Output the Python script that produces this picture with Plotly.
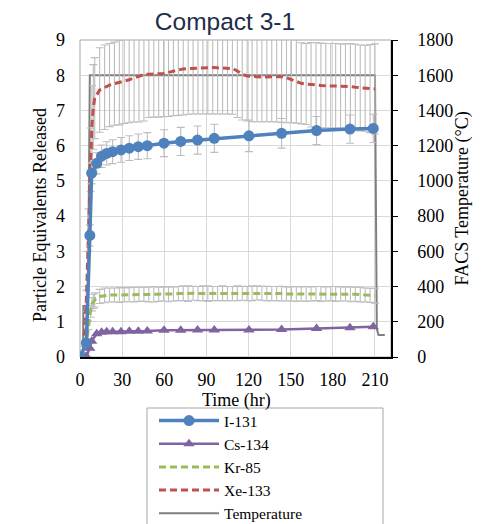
import plotly.graph_objects as go

# ---------------- data ----------------
iod_time = [0, 4.5, 7.0, 8.3, 11.9, 15.4, 19.0, 23.2, 29.2, 35.1, 41.5, 47.9, 59.8,
            71.7, 83.7, 95.6, 120.3, 143.5, 168.4, 192.2, 208.8]
i131 = [0.0, 0.4, 3.45, 5.22, 5.5, 5.7, 5.78, 5.83, 5.88, 5.93, 5.97, 6.0, 6.07,
        6.12, 6.16, 6.21, 6.28, 6.35, 6.43, 6.47, 6.49]
i131_err = [0, 0.05, 0.3, 0.3, 0.3, 0.32, 0.33, 0.34, 0.35, 0.35, 0.36, 0.37, 0.38,
            0.4, 0.4, 0.4, 0.45, 0.42, 0.4, 0.4, 0.4]
cs134 = [0.0, 0.02, 0.25, 0.45, 0.66, 0.70, 0.72, 0.72, 0.72, 0.73, 0.73, 0.74, 0.76,
         0.76, 0.77, 0.77, 0.77, 0.78, 0.81, 0.83, 0.86]

gas_time = [0, 2.5, 4.5, 6.0, 7.5, 8.5, 9.5,
            10.5, 14, 17.5, 21, 24.5, 28, 31.5, 35, 38.5, 42, 45.5, 49, 52.5, 56,
            59.5, 63, 66.5, 70, 73.5, 77, 80.5, 84, 87.5, 91, 94.5, 98, 101.5, 105,
            108.5, 112, 115.5, 119, 122.5, 126, 129.5, 133, 136.5, 140, 143.5, 147,
            150.5, 154, 157.5, 161, 164.5, 168, 171.5, 175, 178.5, 182, 185.5, 189,
            192.5, 196, 199.5, 203, 206.5, 210]
xe133 = [0.0, 0.25, 1.6, 3.6, 5.6, 6.6, 7.1,
         7.35, 7.58, 7.66, 7.72, 7.76, 7.79, 7.83, 7.87, 7.92, 7.97, 8.02, 8.03, 8.03, 8.03,
         8.05, 8.08, 8.12, 8.16, 8.18, 8.19, 8.2, 8.21, 8.21, 8.22, 8.22, 8.21, 8.21, 8.2,
         8.19, 8.12, 8.03, 7.98, 7.96, 7.96, 7.95, 7.95, 7.96, 7.97, 7.96, 7.93,
         7.87, 7.82, 7.77, 7.75, 7.73, 7.72, 7.71, 7.70, 7.70, 7.70, 7.69, 7.69,
         7.68, 7.66, 7.64, 7.63, 7.62, 7.61]
xe133_err = [0.0, 0.05, 0.3, 0.6, 0.9, 1.1, 1.2,
             1.15, 1.2, 1.2, 1.18, 1.18, 1.2, 1.2, 1.22, 1.25, 1.3, 1.32, 1.23, 1.22, 1.22,
             1.23, 1.25, 1.27, 1.3, 1.31, 1.3, 1.3, 1.31, 1.31, 1.32, 1.32, 1.31, 1.31, 1.3,
             1.3, 1.32, 1.3, 1.28, 1.28, 1.28, 1.27, 1.27, 1.28, 1.3, 1.3, 1.28,
             1.22, 1.18, 1.15, 1.15, 1.2, 1.2, 1.2, 1.2, 1.2, 1.2, 1.2, 1.2,
             1.22, 1.22, 1.22, 1.22, 1.25, 1.28]
kr85 = [0.0, 0.1, 0.35, 0.9, 1.3, 1.5, 1.58,
        1.62, 1.72, 1.75, 1.76, 1.76, 1.76, 1.77, 1.77, 1.77, 1.78, 1.78, 1.77, 1.78, 1.78,
        1.79, 1.78, 1.79, 1.80, 1.81, 1.80, 1.81, 1.80, 1.81, 1.80, 1.80, 1.80, 1.81, 1.80,
        1.80, 1.81, 1.81, 1.80, 1.81, 1.82, 1.81, 1.80, 1.80, 1.80, 1.80, 1.79,
        1.79, 1.79, 1.79, 1.79, 1.79, 1.80, 1.79, 1.79, 1.80, 1.79, 1.79, 1.79,
        1.78, 1.78, 1.77, 1.76, 1.75, 1.74]
kr85_err = [0.0, 0.02, 0.05, 0.12, 0.17, 0.19, 0.2,
            0.2, 0.2, 0.21, 0.2, 0.2, 0.21, 0.2, 0.2, 0.21, 0.2, 0.2, 0.21, 0.22, 0.2,
            0.2, 0.21, 0.2, 0.2, 0.21, 0.22, 0.2, 0.2, 0.21, 0.22, 0.2, 0.2, 0.21, 0.2,
            0.2, 0.21, 0.2, 0.2, 0.21, 0.2, 0.2, 0.21, 0.2, 0.2, 0.21, 0.2,
            0.2, 0.21, 0.2, 0.21, 0.2, 0.2, 0.21, 0.2, 0.2, 0.21, 0.2, 0.2,
            0.21, 0.2, 0.21, 0.2, 0.2, 0.21]

temp_time = [0, 2.2, 2.4, 5.6, 7.0, 210.0, 211.3, 212.5, 217.0]
temp_c = [20, 20, 290, 290, 1600, 1600, 160, 125, 125]

x_ticks = [0, 30, 60, 90, 120, 150, 180, 210]

# ---------------- styling ----------------
SERIF = "Liberation Serif, Times New Roman, serif"
ERR = dict(type="data", visible=True, color="#bdbdbd", thickness=1.1, width=4)

fig = go.Figure()

# temperature on primary (right side) axis -> drawn underneath
fig.add_trace(go.Scatter(
    x=temp_time, y=temp_c, name="Temperature", mode="lines",
    line=dict(color="#7f7f7f", width=2), yaxis="y", legendrank=5))

fig.add_trace(go.Scatter(
    x=gas_time, y=xe133, name="Xe-133", mode="lines",
    line=dict(color="#C0504D", width=3, dash="7px,4px"),
    error_y=dict(array=xe133_err, **ERR), yaxis="y2", legendrank=4))

fig.add_trace(go.Scatter(
    x=gas_time, y=kr85, name="Kr-85", mode="lines",
    line=dict(color="#9BBB59", width=3, dash="7px,4px"),
    error_y=dict(array=kr85_err, **ERR), yaxis="y2", legendrank=3))

fig.add_trace(go.Scatter(
    x=iod_time, y=cs134, name="Cs-134", mode="lines+markers",
    line=dict(color="#8064A2", width=2.5),
    marker=dict(symbol="triangle-up", size=10, color="#8064A2"),
    yaxis="y2", legendrank=2))

fig.add_trace(go.Scatter(
    x=iod_time, y=i131, name="I-131", mode="lines+markers",
    line=dict(color="#4F81BD", width=3.5),
    marker=dict(symbol="circle", size=11, color="#4F81BD"),
    error_y=dict(array=i131_err, **ERR), yaxis="y2", legendrank=1))

# page body adds an 8px offset; work in screen pixels
OFF = 8
W, H = 484, 524
SL, SR, ST, SB = 80, 391, 40, 357          # plot area on screen
L, T = SL - OFF, ST - OFF
R, B = W - (SR - OFF), H - (SB - OFF)
pw, ph = SR - SL, SB - ST


def px(sx):
    return (sx - SL) / pw


def py(sy):
    return (SB - sy) / ph


fig.update_layout(
    width=W, height=H,
    margin=dict(l=L, r=R, t=T, b=B, autoexpand=False),
    paper_bgcolor="white", plot_bgcolor="white",
    font=dict(family=SERIF, size=18, color="#000000"),
    title=dict(text="Compact 3-1", x=(225 - OFF) / W, xref="container", xanchor="center",
               y=1 - (21 - OFF) / H, yref="container", yanchor="middle",
               font=dict(family="Liberation Sans, Arial, sans-serif", size=24.5, color="#1F2D4A")),
    xaxis=dict(range=[0, 221.4], tickvals=x_ticks, showgrid=True, gridcolor="#d9d9d9",
               gridwidth=1, zeroline=False, showline=True, linecolor="#000000", linewidth=1.5,
               ticks="", ticklabelstandoff=6, tickfont=dict(size=18)),
    yaxis=dict(range=[0, 1800], dtick=200, side="right", showgrid=True, gridcolor="#d9d9d9",
               zeroline=False, showline=True, linecolor="#000000", linewidth=1.5,
               ticks="outside", ticklen=5, tickcolor="#000000", ticklabelstandoff=16,
               tickfont=dict(size=18)),
    yaxis2=dict(range=[0, 9], dtick=1, side="left", overlaying="y", showgrid=False,
                zeroline=False, showline=False, ticks="", ticklabelstandoff=14,
                tickfont=dict(size=18)),
    showlegend=True,
    legend=dict(x=px(154), y=py(404), xanchor="left", yanchor="top",
                bgcolor="rgba(0,0,0,0)", borderwidth=0, itemwidth=60,
                font=dict(family=SERIF, size=15.5), traceorder="normal",
                itemclick=False, itemdoubleclick=False),
    shapes=[
        dict(type="rect", xref="paper", yref="paper", x0=0, x1=1, y0=0, y1=1,
             line=dict(color="#a6a6a6", width=1), layer="below"),
        dict(type="rect", xref="paper", yref="paper", x0=px(147), x1=px(383),
             y0=py(408), y1=py(560), line=dict(color="#a6a6a6", width=1)),
    ],
    annotations=[
        dict(text="Particle Equivalents Released", xref="paper", yref="paper",
             x=px(40), y=py(215), textangle=-90, showarrow=False,
             xanchor="center", yanchor="middle", font=dict(family=SERIF, size=18)),
        dict(text="FACS Temperature (°C)", xref="paper", yref="paper",
             x=px(462), y=py(198.5), textangle=-90, showarrow=False,
             xanchor="center", yanchor="middle", font=dict(family=SERIF, size=18)),
        dict(text="Time (hr)", xref="paper", yref="paper",
             x=px(236), y=py(400), showarrow=False,
             xanchor="center", yanchor="middle", font=dict(family=SERIF, size=18)),
    ],
)

fig.write_html("out.html")
